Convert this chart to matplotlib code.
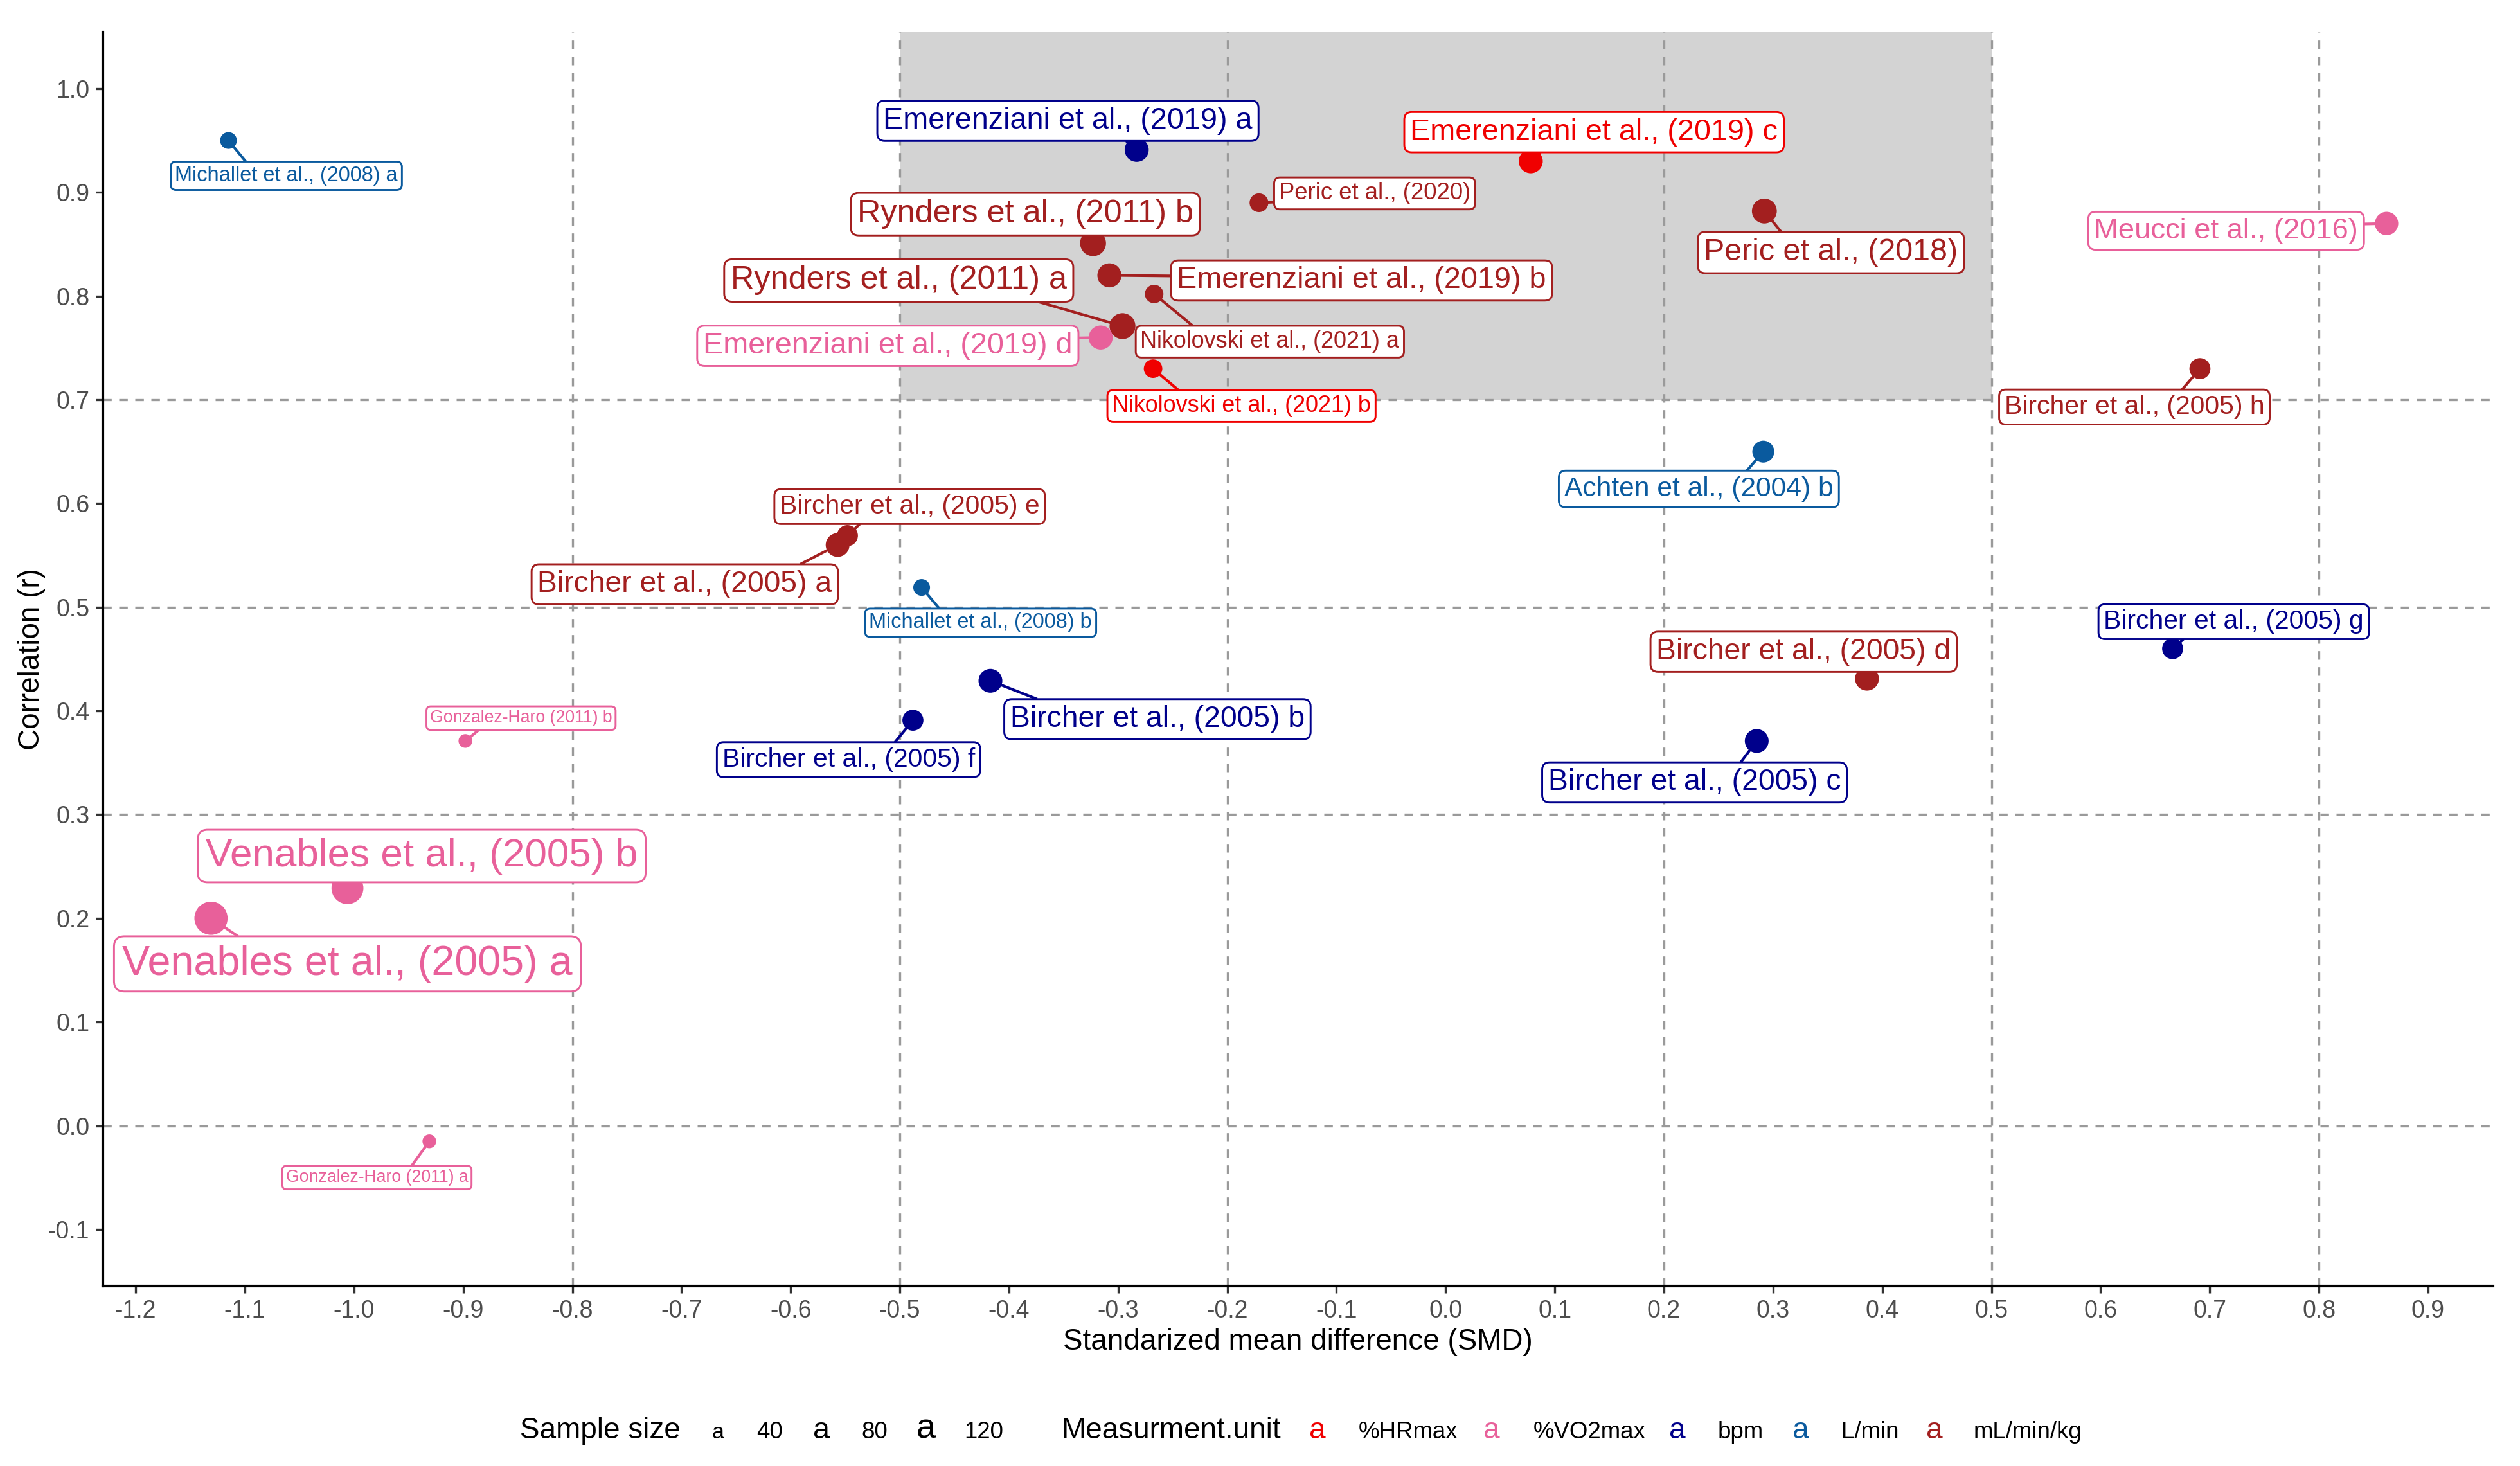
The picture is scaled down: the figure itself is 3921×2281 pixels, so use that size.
import numpy as np
import matplotlib
matplotlib.use('Agg')
import matplotlib.pyplot as plt
from matplotlib.patches import Rectangle

plt.rcParams['font.family'] = ['Liberation Sans', 'DejaVu Sans']
plt.rcParams['axes.unicode_minus'] = False

# data
studies = ['Michallet et al., (2008) a', 'Emerenziani et al., (2019) a', 'Emerenziani et al., (2019) c',
           'Peric et al., (2020)', 'Peric et al., (2018)', 'Meucci et al., (2016)',
           'Rynders et al., (2011) b', 'Rynders et al., (2011) a', 'Emerenziani et al., (2019) b',
           'Nikolovski et al., (2021) a', 'Emerenziani et al., (2019) d', 'Nikolovski et al., (2021) b',
           'Bircher et al., (2005) h', 'Achten et al., (2004) b', 'Bircher et al., (2005) e',
           'Bircher et al., (2005) a', 'Michallet et al., (2008) b', 'Bircher et al., (2005) g',
           'Bircher et al., (2005) d', 'Bircher et al., (2005) b', 'Bircher et al., (2005) f',
           'Bircher et al., (2005) c', 'Gonzalez-Haro (2011) b', 'Venables et al., (2005) b',
           'Venables et al., (2005) a', 'Gonzalez-Haro (2011) a']
smd = [-1.115, -0.283, 0.078, -0.171, 0.292, 0.862, -0.323, -0.296, -0.308, -0.267, -0.316, -0.268,
       0.691, 0.291, -0.548, -0.557, -0.480, 0.666, 0.386, -0.417, -0.488, 0.285, -0.898, -1.006,
       -1.131, -0.931]
corr = [0.950, 0.941, 0.930, 0.890, 0.882, 0.870, 0.851, 0.771, 0.820, 0.802, 0.760, 0.730,
        0.730, 0.650, 0.569, 0.560, 0.519, 0.460, 0.431, 0.429, 0.391, 0.371, 0.371, 0.229,
        0.200, -0.015]
sample_n = [38, 80, 80, 45, 88, 74, 98, 98, 80, 44, 80, 44,
            57, 63, 57, 78, 38, 57, 78, 78, 57, 78, 34, 177,
            198, 34]
unit = ['L/min', 'bpm', '%HRmax', 'mL/min/kg', 'mL/min/kg', '%VO2max', 'mL/min/kg', 'mL/min/kg',
        'mL/min/kg', 'mL/min/kg', '%VO2max', '%HRmax', 'mL/min/kg', 'L/min', 'mL/min/kg',
        'mL/min/kg', 'L/min', 'bpm', 'mL/min/kg', 'bpm', 'bpm', 'bpm', '%VO2max', '%VO2max',
        '%VO2max', '%VO2max']

units = ['%HRmax', '%VO2max', 'bpm', 'L/min', 'mL/min/kg']
size_breaks = [40, 80, 120]

# where the repelled labels ended up
lab_x = [-1.062, -0.346, 0.136, -0.065, 0.353, 0.715, -0.385, -0.501, -0.077, -0.161, -0.511, -0.187,
         0.631, 0.232, -0.491, -0.697, -0.426, 0.722, 0.328, -0.264, -0.547, 0.228, -0.847, -0.938,
         -1.006, -0.979]
lab_y = [0.916, 0.969, 0.958, 0.899, 0.842, 0.863, 0.879, 0.815, 0.815, 0.756, 0.752, 0.694,
         0.693, 0.614, 0.597, 0.522, 0.485, 0.486, 0.457, 0.392, 0.353, 0.331, 0.393, 0.260,
         0.156, -0.050]

colors = {'%HRmax': '#F00000', '%VO2max': '#E8609A', 'bpm': '#00008B',
          'L/min': '#0A5A9E', 'mL/min/kg': '#A31F1F'}


def size_pt(n):
    return 6.4 + 9.1 * np.sqrt(np.clip((np.asarray(n) - 34) / 164.0, 0, 1))


fig = plt.figure(figsize=(3921 / 300, 2281 / 300), dpi=300)
ax = fig.add_axes([160 / 3921, 1 - 2001 / 2281, (3879 - 160) / 3921, (2001 - 50) / 2281])
ax.set_xlim(-1.2301, 0.9595)
ax.set_ylim(-0.1546, 1.0545)

ax.add_patch(Rectangle((-0.5, 0.7), 1.0, 1.0, facecolor='#D3D3D3', edgecolor='none', zorder=0))
for v in [-0.8, -0.5, -0.2, 0.2, 0.5, 0.8]:
    ax.axvline(v, color='#9A9A9A', lw=0.8, ls=(0, (4, 3.5)), zorder=1)
for h in [0.0, 0.3, 0.5, 0.7]:
    ax.axhline(h, color='#9A9A9A', lw=0.8, ls=(0, (4, 3.5)), zorder=1)

fs = size_pt(sample_n)
cols = [colors[u] for u in unit]
ax.scatter(smd, corr, s=(0.8 * fs) ** 2, c=cols, linewidths=0, zorder=3)

texts = []
for i in range(len(studies)):
    t = ax.text(lab_x[i], lab_y[i], studies[i], fontsize=fs[i], color=cols[i], ha='center', va='center',
                zorder=5, bbox=dict(boxstyle='round,pad=0.2,rounding_size=0.25', facecolor='white',
                                    edgecolor=cols[i], linewidth=0.7))
    texts.append(t)

# segments: somewhere between the nearest box point and the point toward the label centre
fig.canvas.draw()
renderer = fig.canvas.get_renderer()
inv = ax.transData.inverted()
for i, t in enumerate(texts):
    bb = t.get_bbox_patch().get_window_extent(renderer)
    px, py = ax.transData.transform((smd[i], corr[i]))
    if bb.x0 <= px <= bb.x1 and bb.y0 <= py <= bb.y1:
        continue
    cx, cy = (bb.x0 + bb.x1) / 2, (bb.y0 + bb.y1) / 2
    tx = min((bb.x0 - px) / (cx - px), (bb.x1 - px) / (cx - px)) if cx != px else -np.inf
    ty = min((bb.y0 - py) / (cy - py), (bb.y1 - py) / (cy - py)) if cy != py else -np.inf
    tt = max(tx, ty)
    ex, ey = px + tt * (cx - px), py + tt * (cy - py)
    nx = min(max(px, bb.x0), bb.x1)
    ny = min(max(py, bb.y0), bb.y1)
    sx, sy = inv.transform((0.5 * (ex + nx), 0.5 * (ey + ny)))
    ax.plot([smd[i], sx], [corr[i], sy], color=cols[i], lw=1.0, zorder=2, solid_capstyle='butt')

for s in ['top', 'right']:
    ax.spines[s].set_visible(False)
for s in ['left', 'bottom']:
    ax.spines[s].set_linewidth(1.0)
    ax.spines[s].set_color('black')

xt = np.round(np.arange(-1.2, 0.95, 0.1), 1)
yt = np.round(np.arange(-0.1, 1.05, 0.1), 1)
ax.set_xticks(xt)
ax.set_xticklabels(['%.1f' % v for v in xt])
ax.set_yticks(yt)
ax.set_yticklabels(['%.1f' % v for v in yt])
ax.tick_params(labelsize=9, labelcolor='#4D4D4D', color='#333333', length=2.75, width=0.8, pad=2.2)
ax.set_xlabel('Standarized mean difference (SMD)', fontsize=11, labelpad=2)
ax.set_ylabel('Correlation (r)', fontsize=11, labelpad=1)

# legend along the bottom
W, H = 3921.0, 2281.0
base = 1 - 2238 / H
fig.text(809 / W, base, 'Sample size', fontsize=11, ha='left', va='baseline')
key_x = [1117, 1278, 1441]
lab_left = [1177, 1340, 1500]
for k in range(len(size_breaks)):
    fig.text(key_x[k] / W, base, 'a', fontsize=float(size_pt(size_breaks[k])), ha='center', va='baseline')
    fig.text(lab_left[k] / W, base, str(size_breaks[k]), fontsize=8.8, ha='left', va='baseline')

fig.text(1651 / W, base, 'Measurment.unit', fontsize=11, ha='left', va='baseline')
ukey_x = [2050, 2321, 2610, 2802, 3010]
ulab_left = [2114, 2386, 2673, 2865, 3071]
for k in range(len(units)):
    fig.text(ukey_x[k] / W, base, 'a', fontsize=11, color=colors[units[k]], ha='center', va='baseline')
    fig.text(ulab_left[k] / W, base, units[k], fontsize=8.8, ha='left', va='baseline')

fig.savefig('out.png', dpi=300)
